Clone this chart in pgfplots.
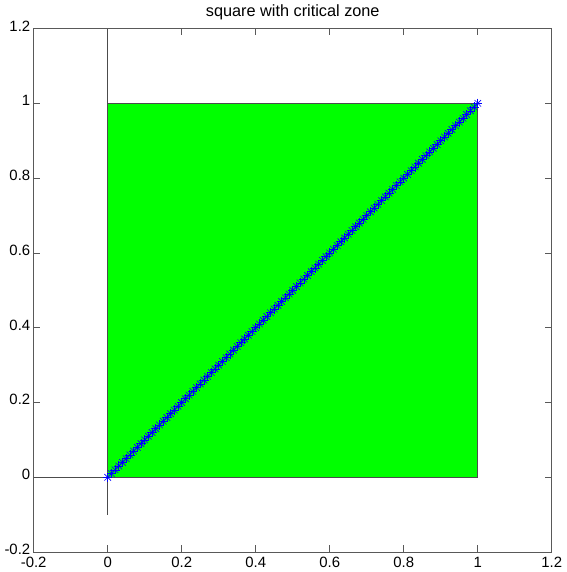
\documentclass[border=0pt]{standalone}
\usepackage{pgfplots}
\usepackage{pgfplotstable}
\pgfplotsset{compat=1.18}
\usepackage{fontspec}
\setmainfont{Liberation Sans}
\pgfplotstableread{
x y
0 0
0.01 0.01
0.02 0.02
0.03 0.03
0.04 0.04
0.05 0.05
0.06 0.06
0.07 0.07
0.08 0.08
0.09 0.09
0.10 0.10
0.11 0.11
0.12 0.12
0.13 0.13
0.14 0.14
0.15 0.15
0.16 0.16
0.17 0.17
0.18 0.18
0.19 0.19
0.20 0.20
0.21 0.21
0.22 0.22
0.23 0.23
0.24 0.24
0.25 0.25
0.26 0.26
0.27 0.27
0.28 0.28
0.29 0.29
0.30 0.30
0.31 0.31
0.32 0.32
0.33 0.33
0.34 0.34
0.35 0.35
0.36 0.36
0.37 0.37
0.38 0.38
0.39 0.39
0.40 0.40
0.41 0.41
0.42 0.42
0.43 0.43
0.44 0.44
0.45 0.45
0.46 0.46
0.47 0.47
0.48 0.48
0.49 0.49
0.50 0.50
0.51 0.51
0.52 0.52
0.53 0.53
0.54 0.54
0.55 0.55
0.56 0.56
0.57 0.57
0.58 0.58
0.59 0.59
0.60 0.60
0.61 0.61
0.62 0.62
0.63 0.63
0.64 0.64
0.65 0.65
0.66 0.66
0.67 0.67
0.68 0.68
0.69 0.69
0.70 0.70
0.71 0.71
0.72 0.72
0.73 0.73
0.74 0.74
0.75 0.75
0.76 0.76
0.77 0.77
0.78 0.78
0.79 0.79
0.80 0.80
0.81 0.81
0.82 0.82
0.83 0.83
0.84 0.84
0.85 0.85
0.86 0.86
0.87 0.87
0.88 0.88
0.89 0.89
0.90 0.90
0.91 0.91
0.92 0.92
0.93 0.93
0.94 0.94
0.95 0.95
0.96 0.96
0.97 0.97
0.98 0.98
0.99 0.99
1 1
}\diag
\begin{document}
\begin{tikzpicture}
\begin{axis}[
  scale only axis,
  width=382pt, height=386pt,
  xmin=-0.2, xmax=1.2, ymin=-0.2, ymax=1.2,
  xtick={-0.2,0,0.2,0.4,0.6,0.8,1,1.2},
  ytick={-0.2,0,0.2,0.4,0.6,0.8,1,1.2},
  xticklabels={-0.2,0,0.2,0.4,0.6,0.8,1,1.2},
  yticklabels={-0.2,0,0.2,0.4,0.6,0.8,1,1.2},
  tick align=inside,
  major tick length=5pt,
  axis line style={gray!70!black, line width=0.6pt},
  tick style={gray!70!black, line width=0.6pt},
  ticklabel style={font=\fontsize{11}{12}\selectfont},
  xticklabel style={yshift=0pt},
  yticklabel style={xshift=1pt, yshift=2pt},
  title={square with critical zone},
  title style={font=\fontsize{12}{14}\selectfont, yshift=-3pt},
  clip=false,
]
\addplot[fill={rgb,255:red,0;green,255;blue,0}, draw=gray!60!black, line width=0.6pt] coordinates {(0,0) (1,0) (1,1) (0,1) (0,0)} -- cycle;
\addplot[gray!60!black, line width=0.6pt] coordinates {(0,-0.1) (0,1.2)};
\addplot[gray!60!black, line width=0.6pt] coordinates {(-0.2,0) (0,0)};
\addplot[blue, line width=0.5pt, mark=+, mark size=3.4pt, mark options={line width=0.45pt}] table[x=x,y=y] {\diag};
\addplot[blue, draw=none, mark=x, mark size=3.4pt, mark options={line width=0.45pt}] table[x=x,y=y] {\diag};
\end{axis}
\end{tikzpicture}
\end{document}
